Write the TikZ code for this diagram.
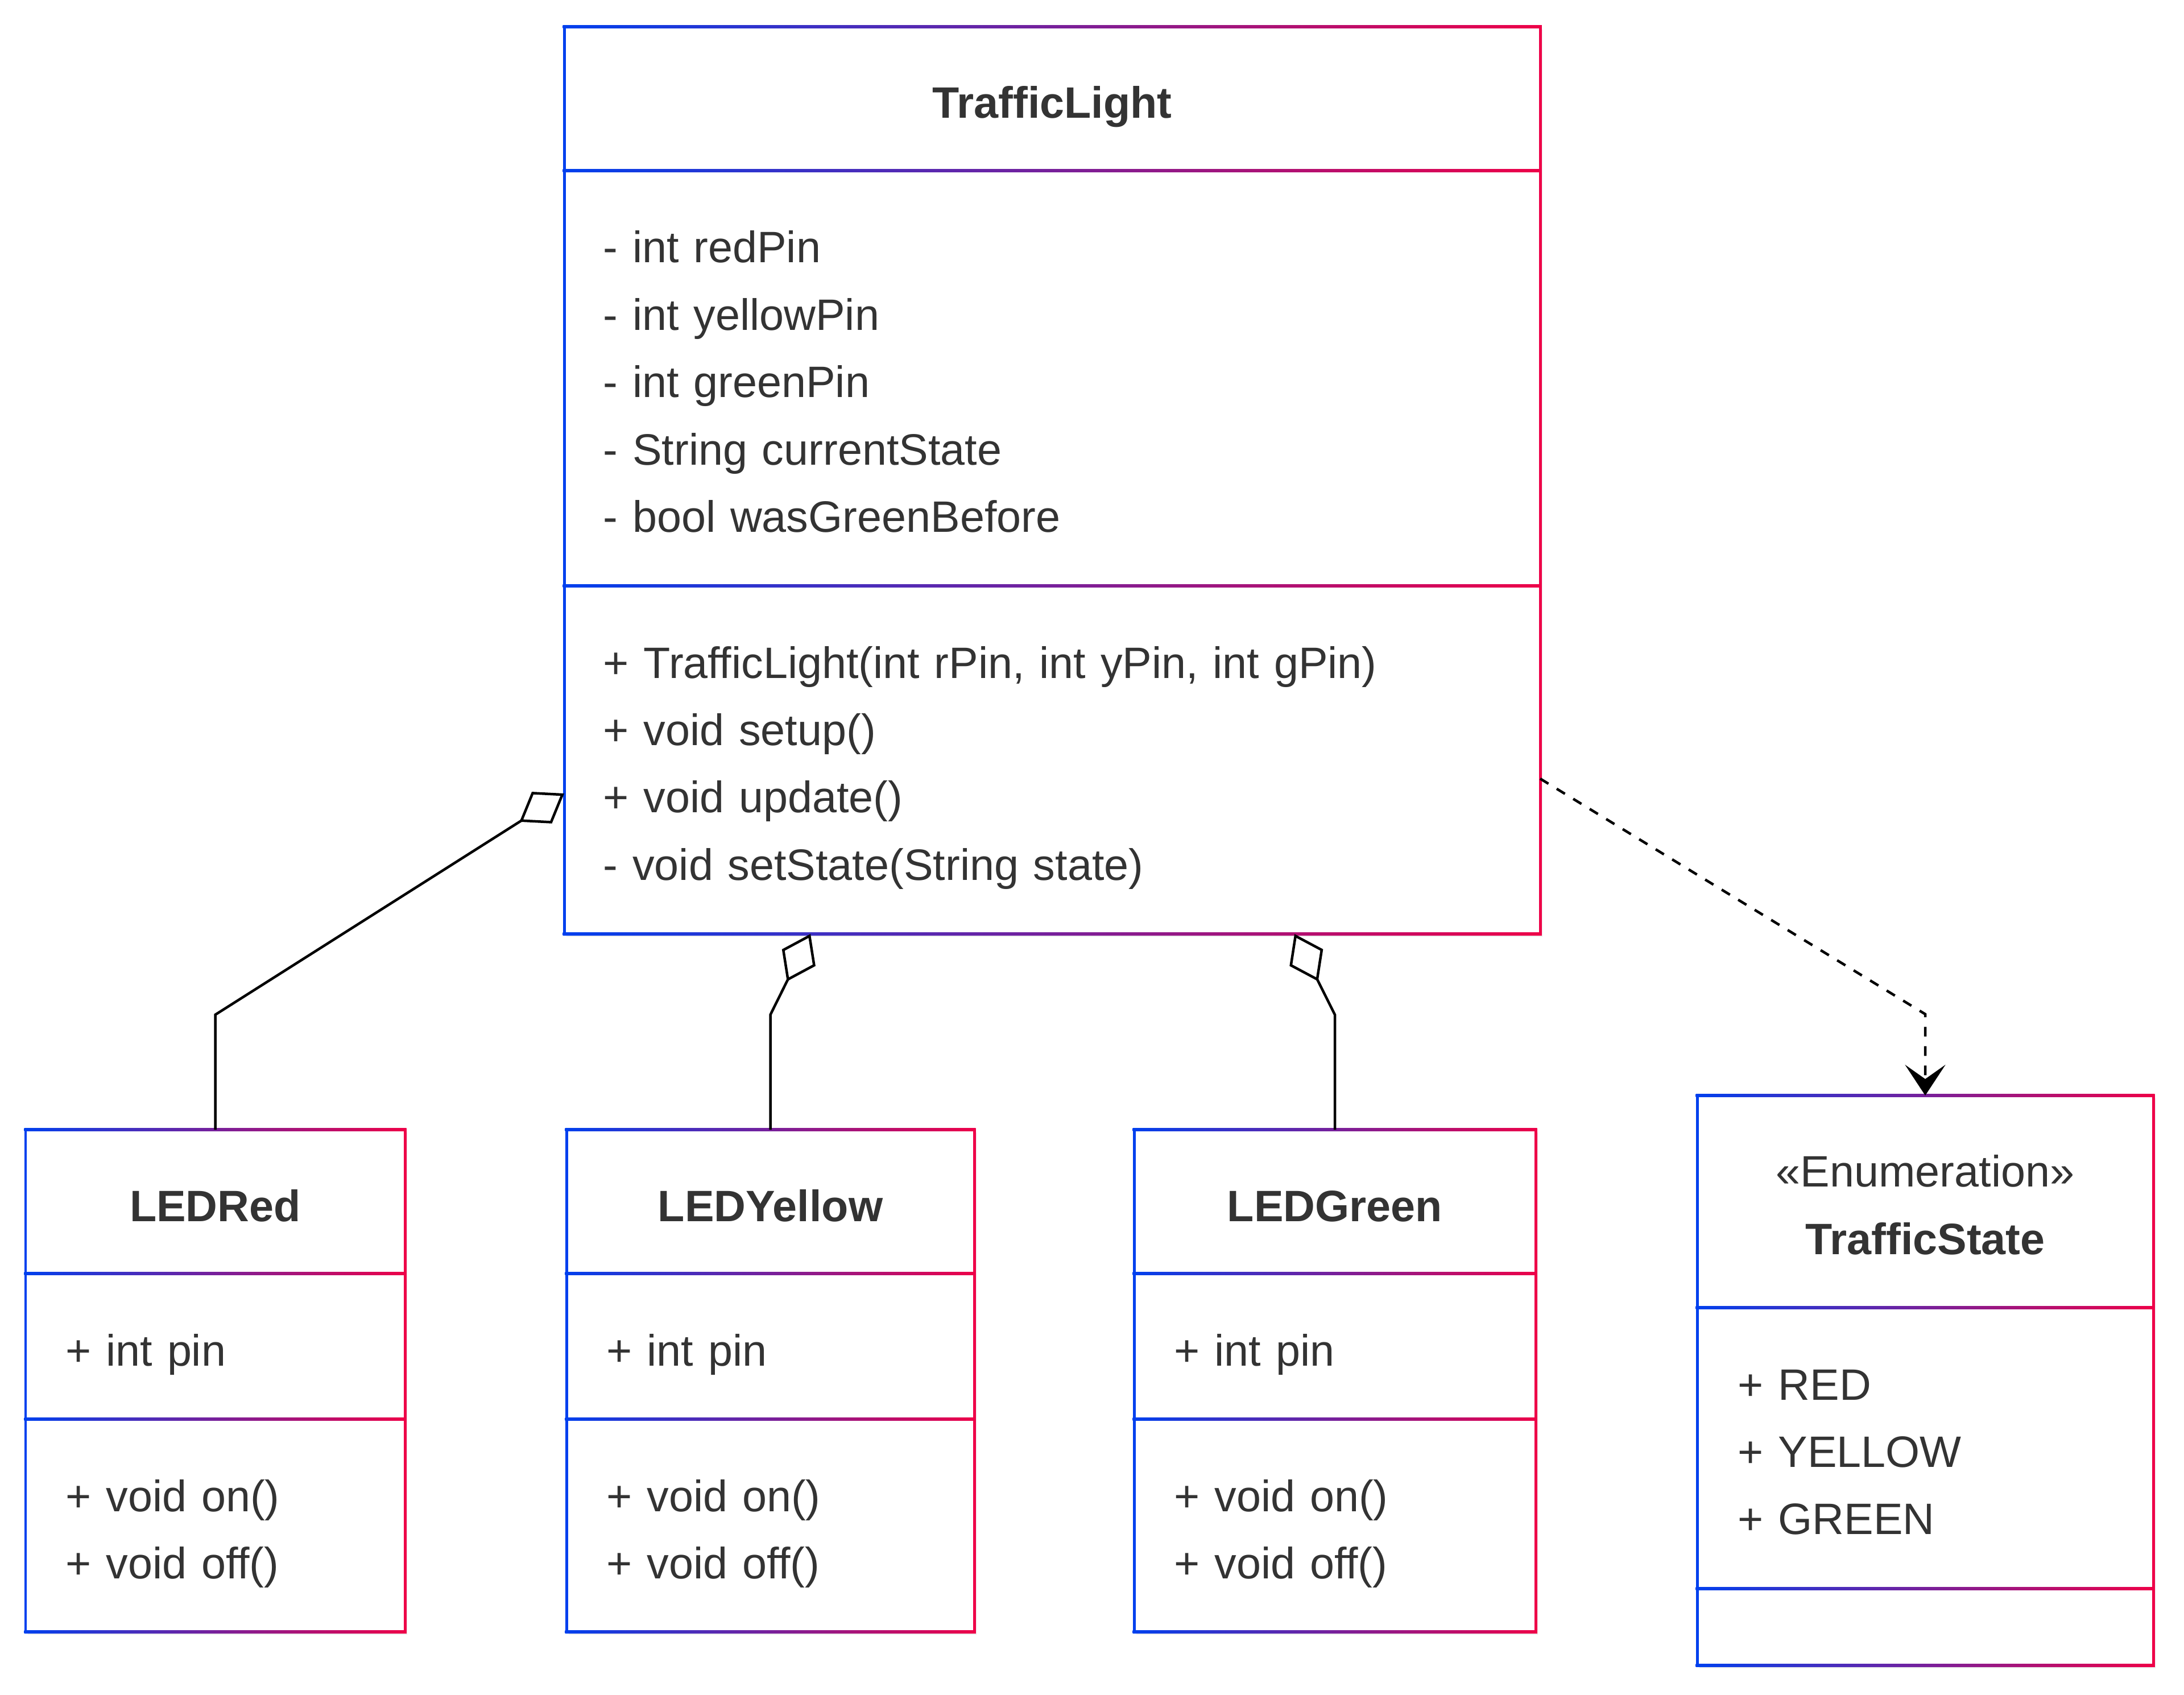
\documentclass[tikz,border=0pt]{standalone}
\usepackage{fontspec}
\setmainfont{Liberation Sans}
\usetikzlibrary{arrows.meta,positioning,shadows}

\definecolor{umlblue}{HTML}{0040EE}
\definecolor{umlred}{HTML}{EE0048}
\definecolor{umltext}{HTML}{333333}

\begin{document}
\begin{tikzpicture}[
        line join=miter,
        classbox/.style 2 args={rectangle, inner sep=0pt, outer sep=0pt, fill=white, anchor=north west,
            minimum width=#1, minimum height=#2,
            drop shadow={shadow xshift=0.04cm, shadow yshift=-0.05cm, opacity=0.15}}, % блок класса
        classname/.style={font=\fontsize{22}{33.7}\selectfont\bfseries, text=umltext, anchor=base, inner sep=0pt},
        stereo/.style={font=\fontsize{22}{33.7}\selectfont, text=umltext, anchor=base, inner sep=0pt},
        members/.style={font=\fontsize{22}{33.7}\selectfont, text=umltext, anchor=base west,
            inner sep=0pt, text width=#1, align=left}, % поля и методы
        gradline/.style={left color=umlblue, right color=umlred}, % рамка с градиентом
        aggr/.style={line width=0.045cm, {Diamond[open, length=0.93cm, width=0.66cm]}-},
        depend/.style={line width=0.045cm, dash pattern=on 0.17cm off 0.17cm,
            -{Stealth[length=0.54cm, width=0.71cm, inset=0.25cm]}},
    ]

    \path[use as bounding box, fill=white] (0,0) rectangle (38.4,-29.8);

    % Классы
    \node[classbox={17.16cm}{15.95cm}] (TL) at (9.92,-0.47) {};
    \node[classbox={6.67cm}{8.83cm}] (LEDRed) at (0.45,-19.86) {};
    \node[classbox={7.17cm}{8.83cm}, right=2.84cm of LEDRed] (LEDYellow) {};
    \node[classbox={7.06cm}{8.83cm}, right=2.81cm of LEDYellow] (LEDGreen) {};
    \node[classbox={8.02cm}{10.02cm}] (TS) at (29.84,-19.26) {};

    % Рамки и разделители
    \foreach \nm/\ds in {TL/{0,2.53,9.83,15.95}, LEDRed/{0,2.53,5.09,8.83}, LEDYellow/{0,2.53,5.09,8.83},
            LEDGreen/{0,2.53,5.09,8.83}, TS/{0,3.73,8.67,10.02}} {
        \foreach \dy in \ds
            \shade[gradline] ([shift={(-0.025,{0.025-\dy})}]\nm.north west) rectangle ([shift={(0.025,{-0.025-\dy})}]\nm.north east);
        \fill[umlblue] ([shift={(-0.025,0.025)}]\nm.north west) rectangle ([shift={(0.025,-0.025)}]\nm.south west);
        \fill[umlred] ([shift={(-0.025,0.025)}]\nm.north east) rectangle ([shift={(0.025,-0.025)}]\nm.south east);
    }

    % Тексты
    \node[classname] (TL-name) at ([yshift=-1.61cm]TL.north) {TrafficLight};
    \node[members=15.5cm] (TL-attr) at ([shift={(0.68,-4.15)}]TL.north west)
        {- int redPin\\- int yellowPin\\- int greenPin\\- String currentState\\- bool wasGreenBefore};
    \node[members=15.5cm] (TL-meth) at ([shift={(0.68,-11.45)}]TL.north west)
        {+ TrafficLight(int rPin, int yPin, int gPin)\\+ void setup()\\+ void update()\\- void setState(String state)};

    \foreach \nm in {LEDRed, LEDYellow, LEDGreen} {
        \node[classname] (\nm-name) at ([yshift=-1.61cm]\nm.north) {\nm};
        \node[members=5.5cm] (\nm-attr) at ([shift={(0.70,-4.15)}]\nm.north west) {+ int pin};
        \node[members=5.5cm] (\nm-meth) at ([shift={(0.70,-6.71)}]\nm.north west) {+ void on()\\+ void off()};
    }

    \node[stereo] (TS-stereo) at ([yshift=-1.60cm]TS.north) {«Enumeration»};
    \node[classname] (TS-name) at ([yshift=-2.79cm]TS.north) {TrafficState};
    \node[members=6.5cm] (TS-attr) at ([shift={(0.71,-5.35)}]TS.north west) {+ RED\\+ YELLOW\\+ GREEN};

    % Связи
    \draw[aggr] ([yshift=2.47cm]TL.south west) -- ([yshift=2.02cm]LEDRed.north) -- (LEDRed.north);
    \draw[aggr] ([xshift=-4.25cm]TL.south) -- ([yshift=2.02cm]LEDYellow.north) -- (LEDYellow.north);
    \draw[aggr] ([xshift=4.26cm]TL.south) -- ([yshift=2.02cm]LEDGreen.north) -- (LEDGreen.north);
    \draw[depend] ([yshift=2.73cm]TL.south east) -- ([yshift=1.43cm]TS.north) -- (TS.north);
\end{tikzpicture}
\end{document}
